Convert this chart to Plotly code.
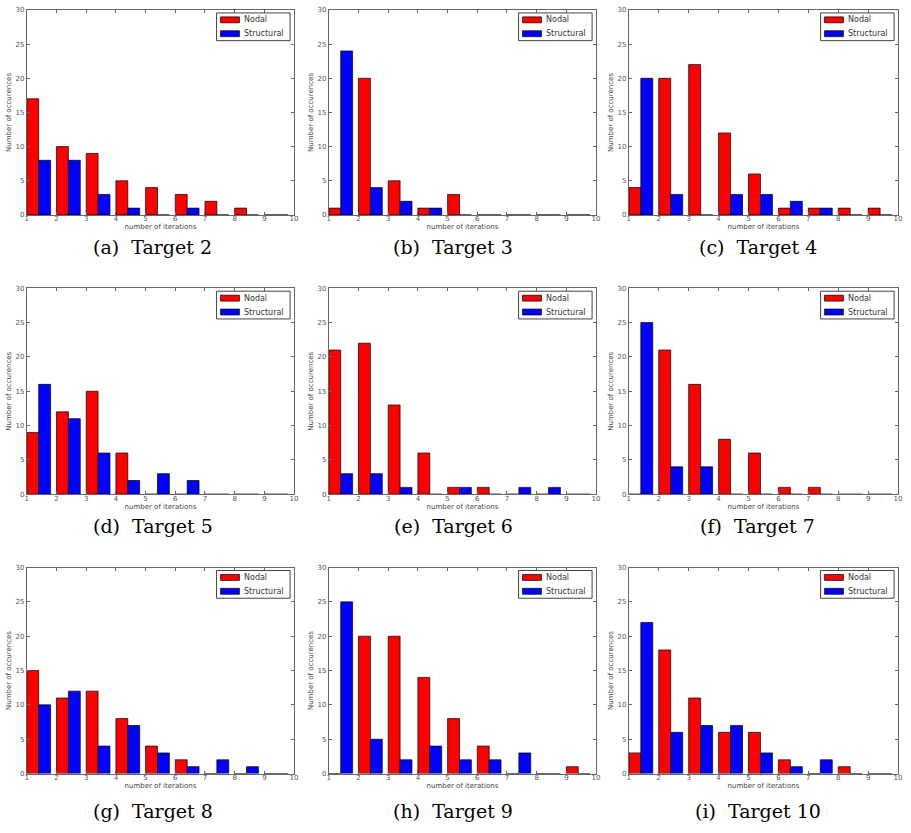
import plotly.graph_objects as go

bins = [1, 2, 3, 4, 5, 6, 7, 8, 9]
x_ticks = [1, 2, 3, 4, 5, 6, 7, 8, 9, 10]
y_ticks = [0, 5, 10, 15, 20, 25, 30]
series_names = ["Nodal", "Structural"]
series_colors = ["#ff0000", "#0000ff"]

captions = ["(a)\u00a0 Target 2", "(b)\u00a0 Target 3", "(c)\u00a0 Target 4",
            "(d)\u00a0 Target 5", "(e)\u00a0 Target 6", "(f)\u00a0 Target 7",
            "(g)\u00a0 Target 8", "(h)\u00a0 Target 9", "(i)\u00a0 Target 10"]

nodal_t2 = [17, 10, 9, 5, 4, 3, 2, 1, 0]
struct_t2 = [8, 8, 3, 1, 0, 1, 0, 0, 0]
nodal_t3 = [1, 20, 5, 1, 3, 0, 0, 0, 0]
struct_t3 = [24, 4, 2, 1, 0, 0, 0, 0, 0]
nodal_t4 = [4, 20, 22, 12, 6, 1, 1, 1, 1]
struct_t4 = [20, 3, 0, 3, 3, 2, 1, 0, 0]
nodal_t5 = [9, 12, 15, 6, 0, 0, 0, 0, 0]
struct_t5 = [16, 11, 6, 2, 3, 2, 0, 0, 0]
nodal_t6 = [21, 22, 13, 6, 1, 1, 0, 0, 0]
struct_t6 = [3, 3, 1, 0, 1, 0, 1, 1, 0]
nodal_t7 = [0, 21, 16, 8, 6, 1, 1, 0, 0]
struct_t7 = [25, 4, 4, 0, 0, 0, 0, 0, 0]
nodal_t8 = [15, 11, 12, 8, 4, 2, 0, 0, 0]
struct_t8 = [10, 12, 4, 7, 3, 1, 2, 1, 0]
nodal_t9 = [0, 20, 20, 14, 8, 4, 0, 0, 1]
struct_t9 = [25, 5, 2, 4, 2, 2, 3, 0, 0]
nodal_t10 = [3, 18, 11, 6, 6, 2, 0, 1, 0]
struct_t10 = [22, 6, 7, 7, 3, 1, 2, 0, 0]

nodal = [nodal_t2, nodal_t3, nodal_t4, nodal_t5, nodal_t6, nodal_t7, nodal_t8, nodal_t9, nodal_t10]
struct = [struct_t2, struct_t3, struct_t4, struct_t5, struct_t6, struct_t7, struct_t8, struct_t9, struct_t10]

W, H = 911, 833
col_px = [(25, 294), (329, 598), (631, 902)]
row_px = [(6, 213), (287, 495), (569, 777)]
caption_x = [152, 454, 761]
caption_y = [245, 527, 815]

def px(x):
    return x / W

def py(y):
    return 1 - y / H

fig = go.Figure()
layout = dict(width=W, height=H, margin=dict(l=0, r=0, t=0, b=0),
              paper_bgcolor="white", plot_bgcolor="white", barmode="overlay",
              showlegend=False, annotations=[], shapes=[])

tick_font = dict(family="DejaVu Sans", size=7, color="#555")
label_font = dict(family="DejaVu Sans", size=7, color="#444")

for i in range(9):
    r, c = divmod(i, 3)
    n = i + 1
    xa = "x" if n == 1 else f"x{n}"
    ya = "y" if n == 1 else f"y{n}"
    x0, x1 = col_px[c]
    y0, y1 = row_px[r]
    for k, vals in enumerate([nodal[i], struct[i]]):
        fig.add_trace(go.Bar(x=bins, y=vals, width=0.4, offset=0.4 * k, name=series_names[k],
                             marker=dict(color=series_colors[k], line=dict(color="black", width=0.7)),
                             xaxis=xa, yaxis=ya))
    xkey = "xaxis" if n == 1 else f"xaxis{n}"
    ykey = "yaxis" if n == 1 else f"yaxis{n}"
    layout[xkey] = dict(domain=[px(x0), px(x1)], range=[1, 10], tickvals=x_ticks,
                        ticks="inside", ticklen=3, tickcolor="#666", mirror="allticks",
                        showline=True, linecolor="#666", linewidth=1, showgrid=False,
                        zeroline=False, tickfont=tick_font, anchor=ya, ticklabelstandoff=-3,
                        title=dict(text="number of iterations", font=label_font, standoff=0))
    layout[ykey] = dict(domain=[py(y1), py(y0)], range=[0, 30], tickvals=y_ticks,
                        ticks="inside", ticklen=3, tickcolor="#666", mirror="allticks",
                        showline=True, linecolor="#666", linewidth=1, showgrid=False,
                        zeroline=False, tickfont=tick_font, anchor=xa,
                        title=dict(text="Number of occurences", font=label_font, standoff=3))
    # legend box (matplotlib style)
    bx1 = x1 - 4
    bx0 = bx1 - 74
    by0 = y0 + 3
    by1 = by0 + 28
    layout["shapes"].append(dict(type="rect", xref="paper", yref="paper",
                                 x0=px(bx0), x1=px(bx1), y0=py(by1), y1=py(by0),
                                 line=dict(color="#444", width=1), fillcolor="white"))
    for k in range(2):
        cy = by0 + 7 + 14 * k
        layout["shapes"].append(dict(type="rect", xref="paper", yref="paper",
                                     x0=px(bx0 + 4), x1=px(bx0 + 23), y0=py(cy + 3), y1=py(cy - 3),
                                     line=dict(color="black", width=0.7), fillcolor=series_colors[k]))
        layout["annotations"].append(dict(text=series_names[k], x=px(bx0 + 26), y=py(cy),
                                          xref="paper", yref="paper", showarrow=False,
                                          xanchor="left", yanchor="middle",
                                          font=dict(family="DejaVu Sans", size=8, color="#333")))
    layout["annotations"].append(dict(text=captions[i], x=px(caption_x[c]), y=py(caption_y[r]),
                                      xref="paper", yref="paper", showarrow=False,
                                      xanchor="center", yanchor="middle",
                                      font=dict(family="DejaVu Serif", size=19, color="black")))

fig.update_layout(**layout)
fig.write_html("out.html", config={"displayModeBar": False},
               post_script="document.body.style.margin='0';document.body.style.overflow='hidden';")
